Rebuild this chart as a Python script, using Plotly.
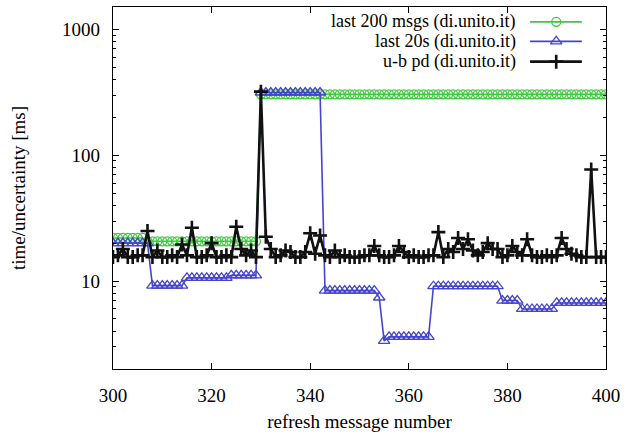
import plotly.graph_objects as go

# refresh message numbers 300..400
msg = list(range(300, 401))

# last 200 msgs (di.unito.it)
last200 = [22.0] * 7 + [20.7] * 23 + [305.0] * 71

# last 20s (di.unito.it)
last20s = ([20.0] * 8 + [9.2] * 7 + [10.6] * 9 + [11.1] * 6 + [315.0] * 13 +
           [8.4] * 11 + [7.4] + [3.35] + [3.6] * 9 + [9.1] * 14 + [7.0] * 4 +
           [6.0] * 7 + [6.7] * 11)

# u-b pd (di.unito.it)
ubpd = [15.5, 16, 18, 15.5, 15.5, 16, 16, 25, 15.5, 17.5,
        15.5, 15.5, 16, 15.5, 19.5, 16, 26.5, 15.5, 15.5, 16,
        20, 15.5, 15.5, 16, 15.5, 27, 18, 16, 17.5, 15.5,
        320, 22.5, 18, 15.5, 16, 17.5, 17, 15.5, 15.5, 17,
        24, 16.5, 23, 16, 15.5, 17.5, 15.5, 16, 15.5, 15.5,
        15.5, 16, 16, 19, 16, 15.5, 15.5, 16, 19, 17,
        15.5, 16, 15.5, 15.5, 16, 16, 24.5, 15.5, 18, 17,
        22, 18, 21.5, 17.5, 16, 17, 20, 18, 18, 15.5,
        16, 19, 17, 16, 21.5, 16, 15.5, 15.5, 16, 15.5,
        16, 22, 18, 16.5, 16, 15.5, 15.5, 77, 15.5, 15.5, 15.5]

names = ["last 200 msgs (di.unito.it)", "last 20s (di.unito.it)", "u-b pd (di.unito.it)"]
colors = ["#3fc93f", "#4545cc", "#111111"]

x_ticks = [300, 320, 340, 360, 380, 400]
y_ticks = [10, 100, 1000]
y_minor = [m * 10 ** k for k in range(0, 4) for m in range(2, 10)]

FONT = "'Liberation Serif', 'Times New Roman', Times, serif"

styles = [
    dict(line=dict(color=colors[0], width=1.6),
         marker=dict(symbol="circle-open", size=9, color=colors[0], line=dict(width=1.3))),
    dict(line=dict(color=colors[1], width=1.6),
         marker=dict(symbol="triangle-up-open", size=10, color=colors[1], line=dict(width=1.3))),
    dict(line=dict(color=colors[2], width=2.6),
         marker=dict(symbol="cross-thin", size=10, color=colors[2],
                     line=dict(width=2.6, color=colors[2]))),
]

fig = go.Figure()
for ys, name, st in zip([last200, last20s, ubpd], names, styles):
    fig.add_trace(go.Scatter(x=msg, y=ys, name=name, mode="lines+markers",
                             showlegend=False, **st))

# key: text right-aligned, then a line sample with its symbol
key_y = [0.959, 0.905, 0.849]
for name, st, ky in zip(names, styles, key_y):
    fig.add_trace(go.Scatter(x=[0.846, 0.951], y=[ky, ky], mode="lines",
                             line=st["line"], xaxis="x2", yaxis="y2",
                             showlegend=False, hoverinfo="skip"))
    fig.add_trace(go.Scatter(x=[0.899], y=[ky], mode="markers",
                             marker=st["marker"], xaxis="x2", yaxis="y2",
                             showlegend=False, hoverinfo="skip"))
    fig.add_annotation(x=0.822, y=ky, xref="paper", yref="paper", text=name,
                       showarrow=False, xanchor="right", yanchor="middle",
                       font=dict(family=FONT, size=18, color="black"))

axis_common = dict(showgrid=False, zeroline=False, showline=True,
                   linecolor="black", linewidth=1.4, mirror="allticks",
                   ticks="inside", ticklen=6, tickwidth=1, tickcolor="black",
                   tickfont=dict(family=FONT, size=19, color="black"))

fig.update_layout(
    width=644, height=434,
    margin=dict(l=113, r=38, t=6, b=64),
    paper_bgcolor="white", plot_bgcolor="white",
    font=dict(family=FONT, color="black"),
    xaxis=dict(range=[300, 400], tickvals=x_ticks, ticklabelstandoff=9,
               title=dict(text="refresh message number", standoff=9,
                          font=dict(family=FONT, size=19, color="black")),
               **axis_common),
    yaxis=dict(type="log", range=[0.301, 3.178], tickvals=y_ticks,
               ticktext=[str(v) for v in y_ticks], ticklabelstandoff=8,
               minor=dict(tickvals=y_minor, ticks="inside", ticklen=3,
                          tickcolor="black", tickwidth=1),
               title=dict(text="time/uncertainty [ms]", standoff=31,
                          font=dict(family=FONT, size=19, color="black")),
               **axis_common),
    xaxis2=dict(range=[0, 1], overlaying="x", visible=False),
    yaxis2=dict(range=[0, 1], overlaying="y", visible=False),
    showlegend=False,
)

fig.write_html("out.html")
